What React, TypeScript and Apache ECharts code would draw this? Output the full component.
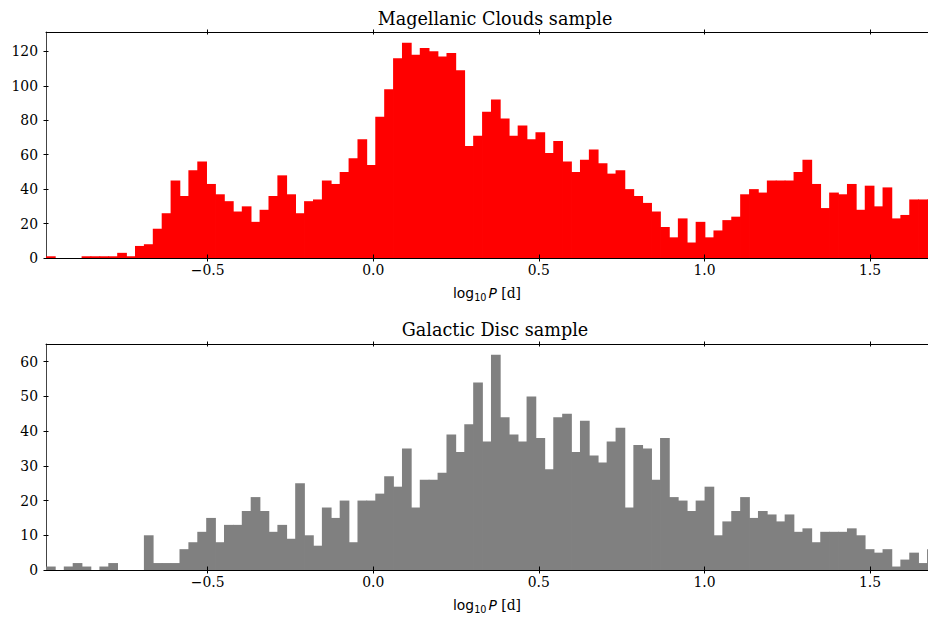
import React, { useEffect, useRef } from "react";
import * as echarts from "echarts";

// ---- Data ----
const binStart = -0.988; // left edge of first bin, log10 P [d]
const binWidth = 0.02687;
const xMin = -0.988;
const xMax = 1.675;

const magellanicCounts = [
  1, 0, 0, 0, 1, 1, 1, 1, 3, 1,
  7, 8, 17, 26, 45, 36, 51, 56, 43, 37,
  33, 27, 30, 21, 28, 36, 48, 37, 26, 33,
  34, 45, 43, 50, 58, 69, 54, 82, 98, 116,
  125, 118, 122, 120, 117, 119, 109, 65, 71, 85,
  92, 81, 71, 77, 69, 73, 61, 68, 56, 50,
  57, 63, 55, 49, 51, 40, 36, 32, 27, 18,
  12, 23, 9, 21, 12, 16, 22, 24, 37, 40,
  38, 45, 45, 45, 50, 57, 43, 29, 38, 37,
  43, 28, 42, 30, 41, 23, 25, 34, 34, 34,
];

const discCounts = [
  1, 0, 1, 2, 1, 0, 1, 2, 0, 0,
  0, 10, 2, 2, 2, 6, 8, 11, 15, 8,
  13, 13, 17, 21, 17, 11, 13, 9, 25, 10,
  7, 18, 15, 20, 8, 20, 20, 22, 27, 24,
  35, 18, 26, 26, 28, 39, 34, 42, 54, 37,
  62, 44, 39, 37, 50, 38, 29, 44, 45, 34,
  43, 33, 31, 37, 41, 18, 36, 35, 26, 38,
  21, 20, 17, 20, 24, 10, 14, 17, 21, 15,
  17, 16, 14, 16, 11, 12, 8, 11, 11, 11,
  12, 10, 6, 5, 6, 1, 3, 5, 2, 6,
];

const xTicks = [-0.5, 0.0, 0.5, 1.0, 1.5];
const yTicksTop = [0, 20, 40, 60, 80, 100, 120];
const yTicksBottom = [0, 10, 20, 30, 40, 50, 60];
const yMaxTop = 131.25;
const yMaxBottom = 65.1;

const titles = ["Magellanic Clouds sample", "Galactic Disc sample"];
const colors = ["#ff0000", "#808080"];

const SERIF = "DejaVu Serif";
const SANS = "DejaVu Sans";
const FS = 13.9;
const TITLE_FS = 17.6;

function toBins(counts: number[]) {
  return counts.map((c, k) => [binStart + k * binWidth, binStart + (k + 1) * binWidth, c]);
}

const fmtX = (v: number) => {
  const s = Number(v).toFixed(1);
  return s.replace("-", "\u2212");
};

export default function App() {
  const ref = useRef<HTMLDivElement>(null);

  useEffect(() => {
    if (!ref.current) return;
    const chart = echarts.init(ref.current, undefined, { renderer: "svg" });

    const grids = [
      { left: 46, top: 32, right: 0, height: 226 },
      { left: 46, top: 344, right: 0, height: 226 },
    ];

    const xAxes: any[] = [];
    const yAxes: any[] = [];
    const series: any[] = [];
    const yMaxes = [yMaxTop, yMaxBottom];
    const yTicks = [yTicksTop, yTicksBottom];
    const countsList = [magellanicCounts, discCounts];

    grids.forEach((_, g) => {
      const base = {
        gridIndex: g,
        type: "value",
        min: xMin,
        max: xMax,
        splitLine: { show: false },
      };
      xAxes.push({
        ...base,
        position: "bottom",
        axisLine: { show: true, onZero: false, lineStyle: { color: "#000", width: 1 } },
        axisTick: { show: true, customValues: xTicks, length: 3.5, lineStyle: { color: "#000" } },
        axisLabel: {
          show: true,
          customValues: xTicks,
          formatter: fmtX,
          fontFamily: SERIF,
          fontSize: FS,
          color: "#000",
          margin: 5,
        },
        name: "{a|log}{s|10}{p|P}{c| [d]}",
        nameLocation: "middle",
        nameGap: 26,
        nameTextStyle: {
          rich: {
            a: { fontFamily: SANS, fontSize: FS, color: "#000", lineHeight: 18, verticalAlign: "middle" },
            s: { fontFamily: SANS, fontSize: 9.7, color: "#000", lineHeight: 8, verticalAlign: "bottom" },
            p: { fontFamily: SANS, fontStyle: "italic", fontSize: FS, color: "#000", lineHeight: 18, verticalAlign: "middle", padding: [0, 0, 0, 2] },
            c: { fontFamily: SERIF, fontSize: FS, color: "#000", lineHeight: 18, verticalAlign: "middle" },
          },
        },
      });
      xAxes.push({
        ...base,
        position: "bottom",
        z: 5,
        axisLine: { show: false, onZero: false },
        axisTick: { show: true, inside: true, customValues: xTicks, length: 3.5, lineStyle: { color: "#000" } },
        axisLabel: { show: false },
      });
      xAxes.push({
        ...base,
        position: "top",
        axisLine: { show: true, onZero: false, lineStyle: { color: "#000", width: 1 } },
        axisTick: { show: true, customValues: xTicks, length: 2.5, lineStyle: { color: "#000" } },
        axisLabel: { show: false },
      });
      xAxes.push({
        ...base,
        position: "top",
        z: 5,
        axisLine: { show: false, onZero: false },
        axisTick: { show: true, inside: true, customValues: xTicks, length: 2.5, lineStyle: { color: "#000" } },
        axisLabel: { show: false },
      });

      const ybase = {
        gridIndex: g,
        type: "value",
        min: 0,
        max: yMaxes[g],
        position: "left",
        splitLine: { show: false },
      };
      yAxes.push({
        ...ybase,
        axisLine: { show: true, onZero: false, lineStyle: { color: "#444", width: 1 } },
        axisTick: { show: true, customValues: yTicks[g], length: 2.5, lineStyle: { color: "#000" } },
        axisLabel: {
          show: true,
          customValues: yTicks[g],
          fontFamily: SERIF,
          fontSize: FS,
          color: "#000",
          margin: 8,
        },
      });
      yAxes.push({
        ...ybase,
        z: 5,
        axisLine: { show: false, onZero: false },
        axisTick: { show: true, inside: true, customValues: yTicks[g], length: 2.5, lineStyle: { color: "#000" } },
        axisLabel: { show: false },
      });

      const color = colors[g];
      series.push({
        type: "custom",
        xAxisIndex: g * 4,
        yAxisIndex: g * 2,
        clip: true,
        encode: { x: [0, 1], y: 2 },
        data: toBins(countsList[g]),
        renderItem: (params: any, api: any) => {
          const x0 = api.value(0);
          const x1 = api.value(1);
          const v = api.value(2);
          if (!(v > 0)) return null;
          const p0 = api.coord([x0, v]);
          const p1 = api.coord([x1, 0]);
          // slight overlap into the neighbouring bin hides anti-aliasing seams
          const rect = echarts.graphic.clipRectByRect(
            { x: p0[0], y: p0[1], width: p1[0] - p0[0] + 0.8, height: p1[1] - p0[1] },
            {
              x: params.coordSys.x,
              y: params.coordSys.y,
              width: params.coordSys.width,
              height: params.coordSys.height,
            }
          );
          if (!rect) return null;
          return {
            type: "rect",
            shape: rect,
            style: { fill: color },
          };
        },
      });
    });

    const option: any = {
      animation: false,
      backgroundColor: "#ffffff",
      title: [
        {
          text: titles[0],
          left: 490,
          top: 5,
          textAlign: "center",
          textStyle: { fontFamily: SERIF, fontSize: TITLE_FS, fontWeight: "normal", color: "#000" },
        },
        {
          text: titles[1],
          left: 490,
          top: 316,
          textAlign: "center",
          textStyle: { fontFamily: SERIF, fontSize: TITLE_FS, fontWeight: "normal", color: "#000" },
        },
      ],
      grid: grids,
      xAxis: xAxes,
      yAxis: yAxes,
      series,
    };

    chart.setOption(option);
    return () => {
      chart.dispose();
    };
  }, []);

  return (
    <div
      ref={ref}
      style={{ position: "absolute", left: 0, top: 0, width: 928, height: 618, background: "#fff" }}
    />
  );
}
